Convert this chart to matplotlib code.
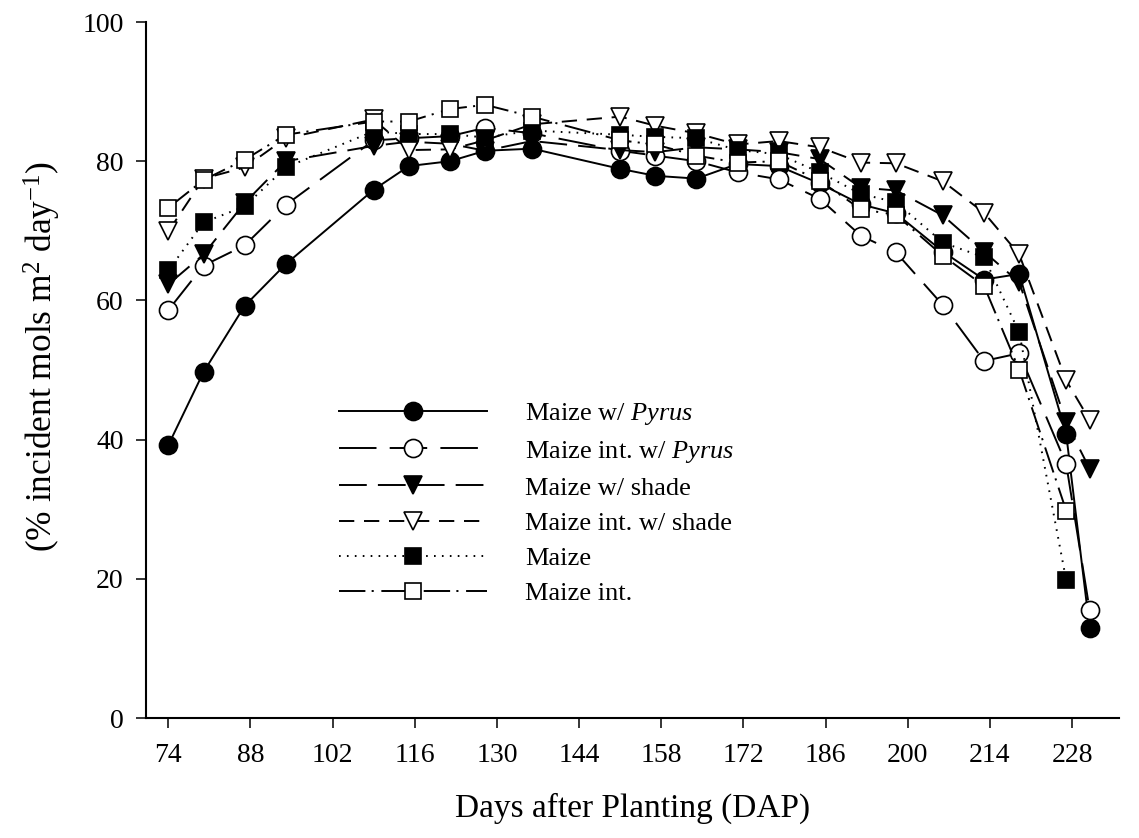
import matplotlib
matplotlib.use("Agg")
import matplotlib.pyplot as plt

plt.rcParams['font.family'] = ['Liberation Serif', 'DejaVu Serif']
plt.rcParams['mathtext.fontset'] = 'custom'
plt.rcParams['mathtext.rm'] = 'Liberation Serif'
plt.rcParams['mathtext.it'] = 'Liberation Serif:italic'
plt.rcParams['lines.scale_dashes'] = False

# sampling days (DAP)
days = [74, 80, 87, 94, 109, 115, 122, 128, 136, 151, 157, 164, 171, 178,
        185, 192, 198, 206, 213, 219, 227, 231]
days_short = days[:-1]   # Maize and Maize int. stop at 227

pyrus = [39.2, 49.7, 59.2, 65.2, 75.9, 79.3, 80.0, 81.5, 81.8, 78.9, 77.9,
         77.5, 79.6, 79.3, 76.8, 73.8, 72.5, 67.0, 63.0, 63.8, 40.8, 12.9]
int_pyrus = [58.6, 65.0, 67.9, 73.7, 83.0, 83.3, 83.6, 84.8, 84.0, 81.5, 80.8,
             80.0, 78.4, 77.4, 74.6, 69.3, 66.9, 59.3, 51.3, 52.4, 36.5, 15.5]
shade = [62.3, 66.6, 74.0, 80.0, 82.2, 82.8, 82.5, 81.5, 82.9, 81.6, 81.3,
         82.0, 81.7, 81.3, 80.3, 76.2, 75.8, 72.2, 67.0, 62.6, 42.5, 35.8]
int_shade = [69.9, 77.5, 79.1, 83.3, 86.0, 81.6, 81.7, 83.0, 85.3, 86.4, 85.1,
             84.0, 82.4, 82.9, 82.0, 79.8, 79.7, 77.1, 72.6, 66.6, 48.5, 42.8]
maize = [64.3, 71.2, 73.5, 79.1, 84.3, 83.9, 83.9, 83.4, 84.4, 83.8, 83.5,
         83.3, 81.6, 81.0, 78.4, 75.3, 74.1, 68.3, 66.2, 55.4, 19.8]
maize_int = [73.3, 77.3, 80.2, 83.8, 85.7, 85.7, 87.5, 88.1, 86.4, 83.0, 82.4,
             80.8, 79.8, 80.0, 77.2, 73.1, 72.3, 66.4, 62.1, 50.0, 29.8]

labels = ['Maize w/ $\\it{Pyrus}$', 'Maize int. w/ $\\it{Pyrus}$',
          'Maize w/ shade', 'Maize int. w/ shade', 'Maize', 'Maize int.']

W, H = 1139, 838
fig = plt.figure(figsize=(W / 100, H / 100), dpi=100)
ax = fig.add_axes([146 / W, 1 - 718 / H, (1119 - 146) / W, (718 - 22) / H])

lw = 1.4
mew = 1.2
ax.plot(days, pyrus, color='black', lw=lw, ls='-', marker='o', ms=13,
        mfc='black', mec='black', mew=mew, label=labels[0])
ax.plot(days, int_pyrus, color='black', lw=lw, ls=(0, (27, 9.5)), marker='o', ms=13,
        mfc='white', mec='black', mew=mew, label=labels[1])
ax.plot(days, shade, color='black', lw=lw, ls=(0, (20, 8)), marker='v', ms=13,
        mfc='black', mec='black', mew=mew, label=labels[2])
ax.plot(days, int_shade, color='black', lw=lw, ls=(0, (11, 7)), marker='v', ms=13,
        mfc='white', mec='black', mew=mew, label=labels[3])
ax.plot(days_short, maize, color='black', lw=lw, ls=(0, (1.2, 4.5)), marker='s', ms=11,
        mfc='black', mec='black', mew=mew, label=labels[4])
ax.plot(days_short, maize_int, color='black', lw=lw, ls=(0, (19, 4.5, 1.5, 5.5)),
        marker='s', ms=11, mfc='white', mec='black', mew=mew, label=labels[5])

ax.set_xlim(70.2, 236)
ax.set_ylim(0, 100)
ax.set_xticks(range(74, 229, 14))
ax.set_yticks(range(0, 101, 20))
for s in ['top', 'right']:
    ax.spines[s].set_visible(False)
for s in ['left', 'bottom']:
    ax.spines[s].set_linewidth(1.5)
ax.tick_params(axis='both', direction='out', length=7, width=1.1, labelsize=20)
ax.tick_params(axis='x', pad=11)
ax.tick_params(axis='y', pad=9)

ax.set_xlabel('Days after Planting (DAP)', fontsize=24, labelpad=18)
ax.set_ylabel('(% incident mols m$^{2}$ day$^{-1}$)', fontsize=25.5)
ax.yaxis.set_label_coords(-0.085, 0.52)

ax.legend(loc='upper left', bbox_to_anchor=(339 / W, 1 - 401 / H),
          bbox_transform=fig.transFigure, frameon=False, fontsize=19,
          numpoints=1, handlelength=5.6, handletextpad=1.45,
          labelspacing=0.44, borderpad=0, borderaxespad=0)

fig.savefig('out.png', dpi=100)
